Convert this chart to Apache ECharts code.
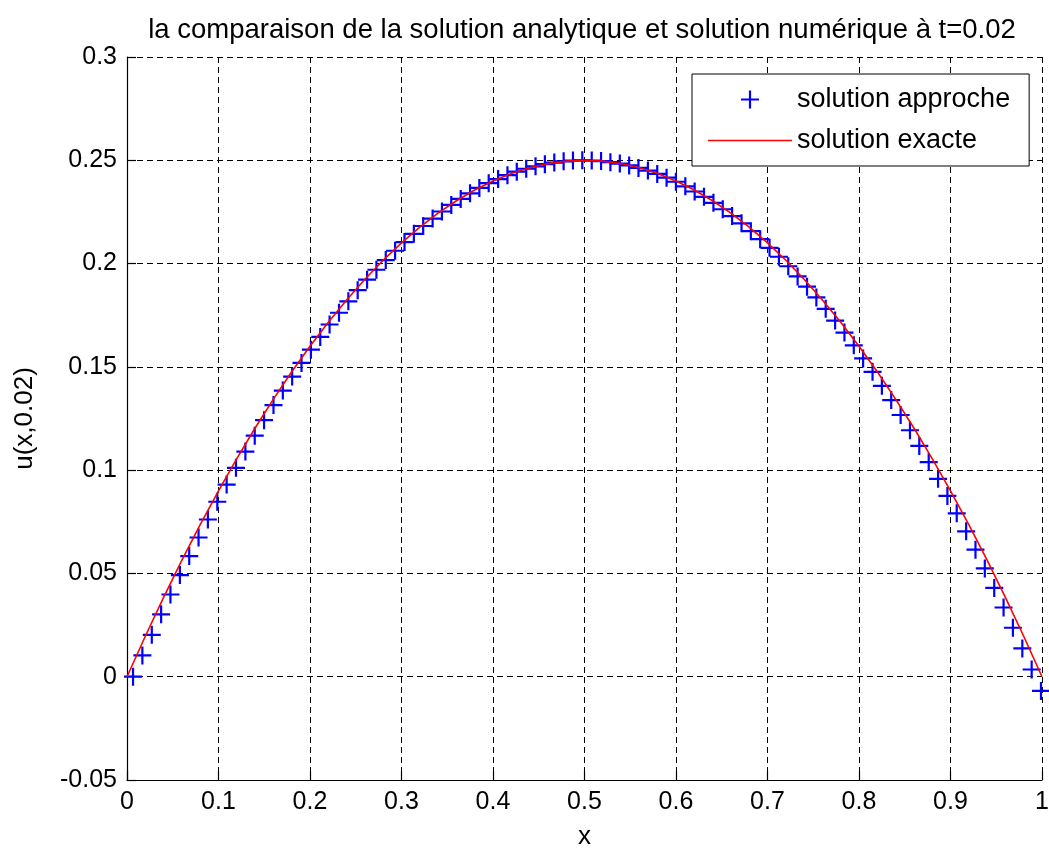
<!DOCTYPE html>
<html>
<head>
<meta charset="utf-8">
<script src="https://cdn.jsdelivr.net/npm/echarts@6/dist/echarts.min.js"></script>
<style>
html,body{margin:0;padding:0;background:#fff;overflow:hidden;}
#c{width:1049px;height:851px;}
</style>
</head>
<body>
<div id="c"></div>
<script>
// Numerical solution markers
var approX = [0.0066,0.0168,0.0271,0.0373,0.0475,0.0578,0.0680,0.0782,0.0884,0.0987,
0.1089,0.1191,0.1294,0.1396,0.1498,0.1601,0.1703,0.1805,0.1907,0.2010,
0.2112,0.2214,0.2317,0.2419,0.2521,0.2624,0.2726,0.2828,0.2930,0.3033,
0.3135,0.3237,0.3340,0.3442,0.3544,0.3647,0.3749,0.3851,0.3953,0.4056,
0.4158,0.4260,0.4363,0.4465,0.4567,0.4670,0.4772,0.4874,0.4976,0.5079,
0.5181,0.5283,0.5386,0.5488,0.5590,0.5693,0.5795,0.5897,0.5999,0.6102,
0.6204,0.6306,0.6409,0.6511,0.6613,0.6716,0.6818,0.6920,0.7022,0.7125,
0.7227,0.7329,0.7432,0.7534,0.7636,0.7739,0.7841,0.7943,0.8045,0.8148,
0.8250,0.8352,0.8455,0.8557,0.8659,0.8762,0.8864,0.8966,0.9068,0.9171,
0.9273,0.9375,0.9478,0.9580,0.9682,0.9785,0.9887,0.9989];
var approY = [0,0.0103,0.0203,0.0302,0.0398,0.0492,0.0584,0.0674,0.0761,0.0847,
0.0930,0.1011,0.1090,0.1167,0.1242,0.1315,0.1385,0.1453,0.1519,0.1583,
0.1645,0.1705,0.1762,0.1817,0.1871,0.1922,0.1970,0.2017,0.2062,0.2104,
0.2144,0.2182,0.2218,0.2252,0.2284,0.2313,0.2340,0.2366,0.2389,0.2409,
0.2428,0.2445,0.2459,0.2471,0.2481,0.2489,0.2495,0.2499,0.2500,0.2499,
0.2496,0.2491,0.2484,0.2475,0.2463,0.2450,0.2434,0.2416,0.2396,0.2374,
0.2349,0.2323,0.2294,0.2263,0.2230,0.2195,0.2157,0.2118,0.2076,0.2033,
0.1987,0.1938,0.1888,0.1836,0.1781,0.1724,0.1666,0.1604,0.1541,0.1476,
0.1408,0.1339,0.1267,0.1193,0.1117,0.1039,0.0958,0.0875,0.0791,0.0704,
0.0615,0.0524,0.0430,0.0335,0.0237,0.0137,0.0035,-0.0069];

// Exact solution curve
var exactX = [0,0.02,0.04,0.06,0.08,0.10,0.12,0.14,0.16,0.18,0.20,0.22,0.24,0.26,0.28,0.30,
0.32,0.34,0.36,0.38,0.40,0.42,0.44,0.46,0.48,0.50,0.52,0.54,0.56,0.58,0.60,0.62,0.64,0.66,
0.68,0.70,0.72,0.74,0.76,0.78,0.80,0.82,0.84,0.86,0.88,0.90,0.92,0.94,0.96,0.98,1.00];
var exactY = [0,0.0196,0.0384,0.0564,0.0736,0.09,0.1056,0.1204,0.1344,0.1476,0.16,0.1716,
0.1824,0.1924,0.2016,0.21,0.2176,0.2244,0.2304,0.2356,0.24,0.2436,0.2464,0.2484,0.2496,0.25,
0.2496,0.2484,0.2464,0.2436,0.24,0.2356,0.2304,0.2244,0.2176,0.21,0.2016,0.1924,0.1824,0.1716,
0.16,0.1476,0.1344,0.1204,0.1056,0.09,0.0736,0.0564,0.0384,0.0196,0];

// Tick labels
var xTicks = ['0','0.1','0.2','0.3','0.4','0.5','0.6','0.7','0.8','0.9','1'];
var yTicks = ['-0.05','0','0.05','0.1','0.15','0.2','0.25','0.3'];

var seriesNames = ['solution approche', 'solution exacte'];
var titleText = 'la comparaison de la solution analytique et solution numérique à t=0.02';

var plusPath = 'path://M0,7.9H18V10.1H0Z M7.9,0H10.1V18H7.9Z';
var linePath = 'path://M0,0H84V1.6H0Z';
var FONT = '"Liberation Sans", Arial, sans-serif';

function zip(a, b) { return a.map(function (v, i) { return [v, b[i]]; }); }
function fmt(arr) {
  return function (v) {
    for (var i = 0; i < arr.length; i++) { if (Math.abs(parseFloat(arr[i]) - v) < 1e-9) return arr[i]; }
    return '';
  };
}

var chart = echarts.init(document.getElementById('c'), null, {renderer: 'canvas', width: 1049, height: 851});
chart.setOption({
  animation: false,
  backgroundColor: '#fff',
  title: {
    text: titleText,
    left: 582,
    textAlign: 'center',
    top: 16,
    padding: 0,
    textStyle: {fontFamily: FONT, fontSize: 27.5, fontWeight: 'normal', color: '#000'}
  },
  legend: {
    orient: 'vertical',
    left: 692,
    top: 74,
    padding: [12, 19, 12, 16],
    itemGap: 14,
    itemWidth: 84,
    itemHeight: 18,
    itemTextGap: 18,
    symbolKeepAspect: true,
    selectedMode: false,
    backgroundColor: '#fff',
    borderColor: '#000',
    borderWidth: 1,
    borderRadius: 0,
    itemStyle: {borderWidth: 0},
    textStyle: {fontFamily: FONT, fontSize: 27, color: '#000', lineHeight: 25},
    data: [{name: seriesNames[0], icon: plusPath}, {name: seriesNames[1], icon: linePath}]
  },
  grid: {left: 127, right: 7, top: 57, bottom: 71, containLabel: false, outerBoundsMode: 'none'},
  xAxis: {
    type: 'value',
    min: parseFloat(xTicks[0]), max: parseFloat(xTicks[xTicks.length - 1]), interval: 0.1,
    name: 'x', nameLocation: 'middle', nameGap: 44,
    nameTextStyle: {fontFamily: FONT, fontSize: 26, color: '#000'},
    axisLine: {show: true, onZero: false, lineStyle: {color: '#000', width: 1.2}},
    axisTick: {show: true, inside: true, length: 9, lineStyle: {color: '#000', width: 1.2}},
    axisLabel: {fontFamily: FONT, fontSize: 25, color: '#000', margin: 10, formatter: fmt(xTicks)},
    splitLine: {show: true, showMinLine: false, lineStyle: {color: '#000', width: 1, type: [6, 4]}}
  },
  yAxis: {
    type: 'value',
    min: parseFloat(yTicks[0]), max: parseFloat(yTicks[yTicks.length - 1]), interval: 0.05,
    name: 'u(x,0.02)', nameLocation: 'middle', nameGap: 89, nameRotate: 90,
    nameTextStyle: {fontFamily: FONT, fontSize: 26, color: '#000'},
    axisLine: {show: true, onZero: false, lineStyle: {color: '#000', width: 1.2}},
    axisTick: {show: true, inside: true, length: 9, lineStyle: {color: '#000', width: 1.2}},
    axisLabel: {fontFamily: FONT, fontSize: 25, color: '#000', margin: 10, formatter: fmt(yTicks)},
    splitLine: {show: true, showMinLine: false, lineStyle: {color: '#000', width: 1, type: [6, 4]}}
  },
  series: [
    {
      name: seriesNames[0],
      type: 'scatter',
      symbol: plusPath,
      symbolSize: 18,
      itemStyle: {color: '#0000ff', borderWidth: 0, opacity: 1},
      data: zip(approX, approY)
    },
    {
      name: seriesNames[1],
      type: 'line',
      symbol: 'none',
      showSymbol: false,
      lineStyle: {color: '#ff0000', width: 1.6},
      itemStyle: {color: '#ff0000'},
      data: zip(exactX, exactY)
    }
  ]
});
</script>
</body>
</html>
